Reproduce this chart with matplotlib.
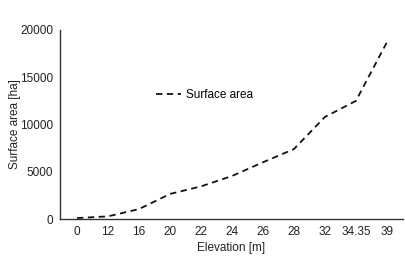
import matplotlib
matplotlib.use("Agg")
import matplotlib.pyplot as plt

elevations = ["0", "12", "16", "20", "22", "24", "26", "28", "32", "34.35", "39"]
surface_area = [100, 280, 1050, 2650, 3450, 4550, 6000, 7400, 10800, 12500, 18700]

plt.rcParams['font.family'] = ['Liberation Sans', 'DejaVu Sans']

fig = plt.figure(figsize=(4.05, 2.57), dpi=100)
ax = fig.add_axes([60/405, (257-219)/257, (403-60)/405, (219-30)/257])

x = list(range(len(elevations)))
ax.plot(x, surface_area, color='#111111', linestyle=(0, (3.5, 2.5)), linewidth=1.3, label='Surface area')

ax.set_xlim(-0.55, 10.52)
ax.set_ylim(0, 20000)
ax.set_xticks(x)
ax.set_xticklabels(elevations)
ax.set_yticks([0, 5000, 10000, 15000, 20000])
ax.tick_params(length=0, labelsize=8.5, pad=5, colors='#222222')
for s in ['top', 'right']:
    ax.spines[s].set_visible(False)
for s in ['left', 'bottom']:
    ax.spines[s].set_color('#333333')
    ax.spines[s].set_linewidth(1.0)

ax.set_xlabel('Elevation [m]', fontsize=8.5, color='#222222', labelpad=3)
ax.set_ylabel('Surface area [ha]', fontsize=8.5, color='#222222')
ax.yaxis.set_label_coords(-39/343, 0.5)

ax.legend(loc='upper left', bbox_to_anchor=(0.25, 0.745), frameon=False, fontsize=8.5,
          handlelength=2.1, handletextpad=0.4)

fig.savefig('out.png', dpi=100)
